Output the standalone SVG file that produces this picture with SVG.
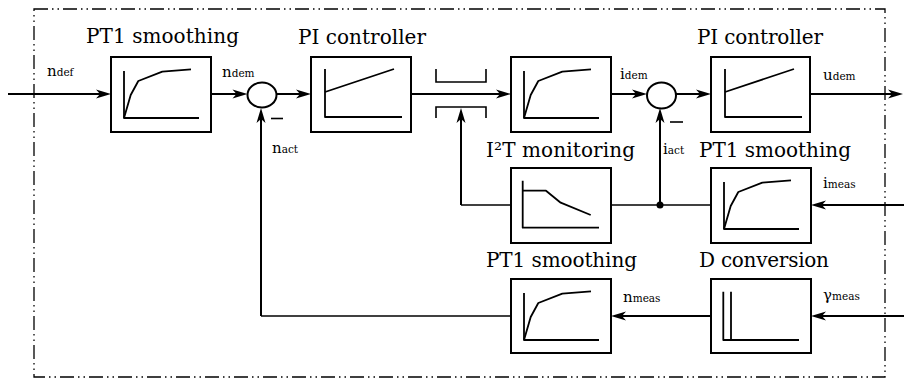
<svg xmlns="http://www.w3.org/2000/svg" width="904" height="381" viewBox="0 0 904 381">
<style>
.box{fill:#fff;stroke:#000;stroke-width:2}
.ico{fill:none;stroke:#000;stroke-width:1.8;stroke-linejoin:round}
.ln{fill:none;stroke:#000;stroke-width:2}
.ln2{fill:none;stroke:#000;stroke-width:1.6}
.br{fill:none;stroke:#000;stroke-width:1.6}
text{font-family:"DejaVu Serif","Liberation Serif",serif;fill:#000}
.hd{font-size:20px}
.sig{font-size:15px}
.sub{font-size:10.5px}
.border{fill:none;stroke:#000;stroke-width:1.3;stroke-dasharray:14 4 1.5 4 1.5 4}
</style>
<defs>
<marker id="arr" viewBox="-10 -6 17 12" markerWidth="17" markerHeight="12" refX="0" refY="0" orient="auto" markerUnits="userSpaceOnUse">
<path d="M6,0 L-9,-4.5 L-5,0 L-9,4.5 Z" fill="#000"/>
</marker>
<g id="pt1icon">
<path d="M13,14 V61 H88"/>
<path d="M13,61 L19.7,38 L27.3,24 L51.3,14.7 L80,12.3"/>
</g>
<g id="piicon">
<path d="M14,12 V60 H91"/>
<path d="M14,35 L83,12"/>
</g>
</defs>
<rect class="border" x="34" y="9" width="851" height="368"/>

<g id="connectors">
<path class="ln" d="M8,94 H105" marker-end="url(#arr)"/>
<path class="ln" d="M211,94 H241.5" marker-end="url(#arr)"/>
<path class="ln" d="M276.5,94 H305" marker-end="url(#arr)"/>
<path class="ln" d="M411,94 H505" marker-end="url(#arr)"/>
<path class="ln" d="M611,94 H641" marker-end="url(#arr)"/>
<path class="ln" d="M676,94 H705" marker-end="url(#arr)"/>
<path class="ln" d="M810,94 H897" marker-end="url(#arr)"/>
<path class="ln" d="M904,205 H817" marker-end="url(#arr)"/>
<path class="ln2" d="M711,205 H611"/>
<path class="ln" d="M660,205 V114" marker-end="url(#arr)"/>
<circle cx="660" cy="205" r="3.5" fill="#000"/>
<path class="ln2" d="M511,205 H461"/>
<path class="ln" d="M461,205 V114" marker-end="url(#arr)"/>
<path class="ln" d="M904,316 H817" marker-end="url(#arr)"/>
<path class="ln" d="M711,316 H617" marker-end="url(#arr)"/>
<path class="ln2" d="M511,316 H261"/>
<path class="ln" d="M261,316 V114" marker-end="url(#arr)"/>
</g>

<g id="switch">
<path class="br" d="M436,69 V82 H486 V69"/>
<path class="br" d="M436,118 V107 H486 V118"/>
</g>

<g id="sum1">
<ellipse cx="262" cy="95" rx="14.5" ry="12.5" fill="#fff" stroke="#000" stroke-width="2"/>
<path class="ln2" d="M271,118.5 H283"/>
</g>
<g id="sum2">
<ellipse cx="661.5" cy="95.5" rx="14.5" ry="13" fill="#fff" stroke="#000" stroke-width="2"/>
<path class="ln2" d="M670,122 H683"/>
</g>

<g id="pt1a">
<rect class="box" x="111" y="57" width="100" height="75"/>
<use href="#pt1icon" class="ico" transform="translate(111,57)"/>
<text class="hd" x="86" y="43" textLength="153" lengthAdjust="spacing">PT1 smoothing</text>
</g>
<g id="pi1">
<rect class="box" x="311" y="57" width="100" height="75"/>
<use href="#piicon" class="ico" transform="translate(311,57)"/>
<text class="hd" x="298" y="44" textLength="128" lengthAdjust="spacing">PI controller</text>
</g>
<g id="pt1b">
<rect class="box" x="511" y="57" width="100" height="75"/>
<use href="#pt1icon" class="ico" transform="translate(511,57)"/>
</g>
<g id="pi2">
<rect class="box" x="711" y="57" width="99" height="75"/>
<use href="#piicon" class="ico" transform="translate(711,57)"/>
<text class="hd" x="697" y="44" textLength="126" lengthAdjust="spacing">PI controller</text>
</g>
<g id="i2t">
<rect class="box" x="511" y="168" width="100" height="75"/>
<path class="ico" d="M522.7,180.7 V227.7 H599"/>
<path class="ico" d="M522.7,190.7 H546 L560.7,202.7 L590.7,215"/>
<text class="hd" x="486" y="157" textLength="149" lengthAdjust="spacing">I²T monitoring</text>
</g>
<g id="pt1c">
<rect class="box" x="711" y="168" width="100" height="75"/>
<use href="#pt1icon" class="ico" transform="translate(711,168)"/>
<text class="hd" x="699" y="157" textLength="152" lengthAdjust="spacing">PT1 smoothing</text>
</g>
<g id="dconv">
<rect class="box" x="711" y="279" width="100" height="74"/>
<path class="ico" d="M723.3,291.7 V340 H799"/>
<path class="ico" d="M731,291.7 V340"/>
<text class="hd" x="699" y="267" textLength="130" lengthAdjust="spacing">D conversion</text>
</g>
<g id="pt1d">
<rect class="box" x="511" y="279" width="100" height="74"/>
<use href="#pt1icon" class="ico" transform="translate(511,279)"/>
<text class="hd" x="486" y="267" textLength="151" lengthAdjust="spacing">PT1 smoothing</text>
</g>

<g id="labels">
<text class="sig" x="47" y="76">n<tspan class="sub">def</tspan></text>
<text class="sig" x="222" y="77">n<tspan class="sub">dem</tspan></text>
<text class="sig" x="620" y="79">i<tspan class="sub">dem</tspan></text>
<text class="sig" x="823" y="80">u<tspan class="sub">dem</tspan></text>
<text class="sig" x="272" y="153">n<tspan class="sub">act</tspan></text>
<text class="sig" x="663" y="154">i<tspan class="sub">act</tspan></text>
<text class="sig" x="823" y="188">i<tspan class="sub">meas</tspan></text>
<text class="sig" x="623" y="302">n<tspan class="sub">meas</tspan></text>
<text class="sig" x="823" y="300">γ<tspan class="sub">meas</tspan></text>
</g>
</svg>
